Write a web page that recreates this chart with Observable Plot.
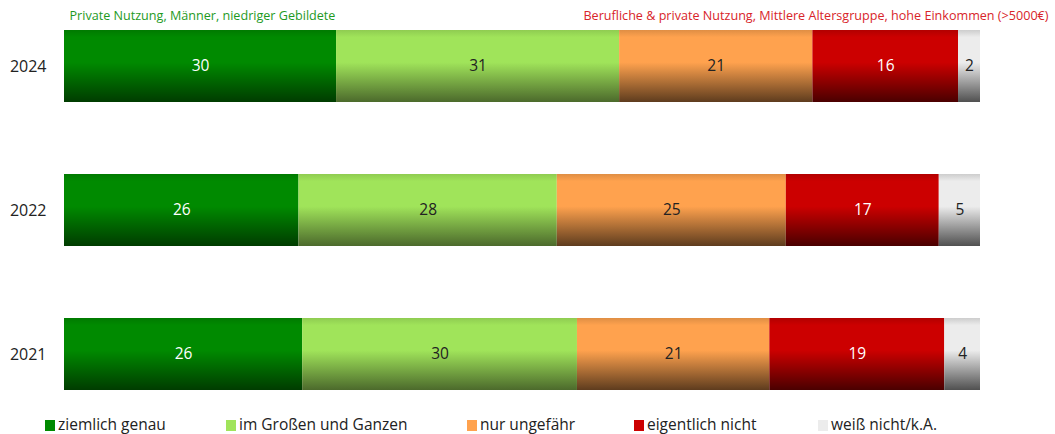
<!DOCTYPE html>
<html>
<head>
<meta charset="utf-8">
<script src="https://cdn.jsdelivr.net/npm/d3@7"></script>
<script src="https://cdn.jsdelivr.net/npm/@observablehq/plot@0.6"></script>
<style>
  body { margin: 0; background: #fff; font-family: "Open Sans", "Noto Sans", sans-serif; }
  #wrap { position: relative; width: 1055px; height: 434px; }
  .legend { position: absolute; top: 410px; left: 0; width: 1055px; height: 24px; }
  .item { position: absolute; top: 6px; font-size: 15.5px; color: #222; line-height: 17px; white-space: nowrap; }
  .sw { display: inline-block; width: 10px; height: 11px; margin-right: 3px; vertical-align: -1px; }
</style>
</head>
<body>
<div id="wrap"></div>
<script>
const years = ["2024", "2022", "2021"];
const categories = ["ziemlich genau", "im Großen und Ganzen", "nur ungefähr", "eigentlich nicht", "weiß nicht/k.A."];
// shares in percent (labels show rounded values)
const v2024 = [29.7, 30.9, 21.1, 15.9, 2.4];
const v2022 = [25.6, 28.2, 25.0, 16.7, 4.5];
const v2021 = [26.0, 30.0, 21.0, 19.1, 3.9];
const baseColors = ["#008a00", "#a0e45a", "#ffa24e", "#cc0000", "#ececec"];
const darkColors = ["#003c00", "#4c6a2c", "#5e3c1e", "#4a0000", "#505050"];
const labelColors = ["#ffffff", "#222222", "#222222", "#ffffff", "#222222"];
const noteLeft = "Private Nutzung, Männer, niedriger Gebildete";
const noteRight = "Berufliche & private Nutzung, Mittlere Altersgruppe, hohe Einkommen (>5000€)";
const legendX = [45, 226, 467, 634, 818];

const series = {"2024": v2024, "2022": v2022, "2021": v2021};
const data = [];
for (const y of years) categories.forEach((c, i) => data.push({year: y, cat: c, value: series[y][i], idx: i}));

const gradIds = categories.map((_, i) => `grad${i}`);

const stackOpts = {x: "value", y: "year", order: categories, offset: "normalize"};

const plot = Plot.plot({
  width: 1055,
  height: 410,
  marginTop: 30,
  marginBottom: 20,
  marginLeft: 64,
  marginRight: 75,
  style: {fontFamily: "'Open Sans', 'Noto Sans', sans-serif", background: "transparent"},
  x: {domain: [0, 1], axis: null},
  y: {domain: years, range: [30, 390], paddingInner: 0.5, paddingOuter: 0, label: null, tickSize: 0, tickPadding: 18},
  color: {domain: categories, range: gradIds.map(id => `url(#${id})`)},
  marks: [
    Plot.barX(data, Plot.stackX({...stackOpts, fill: "cat"})),
    Plot.text(data, Plot.stackX({...stackOpts, text: d => String(Math.round(d.value)), fill: d => labelColors[d.idx], fontSize: 15.5})),
    Plot.axisY({tickSize: 0, tickPadding: 18, fontSize: 16, color: "#222", label: null}),
    Plot.text([noteLeft], {frameAnchor: "top-left", dx: 5, dy: -19, textAnchor: "start", fill: "#1e9a1e", fontSize: 12.6}),
    Plot.text([noteRight], {frameAnchor: "top-right", dx: 68, dy: -19, textAnchor: "end", fill: "#d8242a", fontSize: 12.6})
  ]
});

// gradient definitions
const svg = d3.select(plot);
const defs = svg.insert("defs", ":first-child");
baseColors.forEach((c, i) => {
  const g = defs.append("linearGradient").attr("id", gradIds[i]).attr("x1", 0).attr("y1", 0).attr("x2", 0).attr("y2", 1);
  const top = d3.interpolateRgb(c, darkColors[i])(0.2);
  g.append("stop").attr("offset", "0%").attr("stop-color", top);
  g.append("stop").attr("offset", "10%").attr("stop-color", c);
  g.append("stop").attr("offset", "45%").attr("stop-color", c);
  g.append("stop").attr("offset", "100%").attr("stop-color", darkColors[i]);
});

const wrap = document.getElementById("wrap");
wrap.appendChild(plot);

const legend = document.createElement("div");
legend.className = "legend";
categories.forEach((c, i) => {
  const it = document.createElement("div");
  it.className = "item";
  it.style.left = legendX[i] + "px";
  const sw = document.createElement("span");
  sw.className = "sw";
  sw.style.background = baseColors[i];
  it.appendChild(sw);
  it.appendChild(document.createTextNode(c));
  legend.appendChild(it);
});
wrap.appendChild(legend);
</script>
</body>
</html>
